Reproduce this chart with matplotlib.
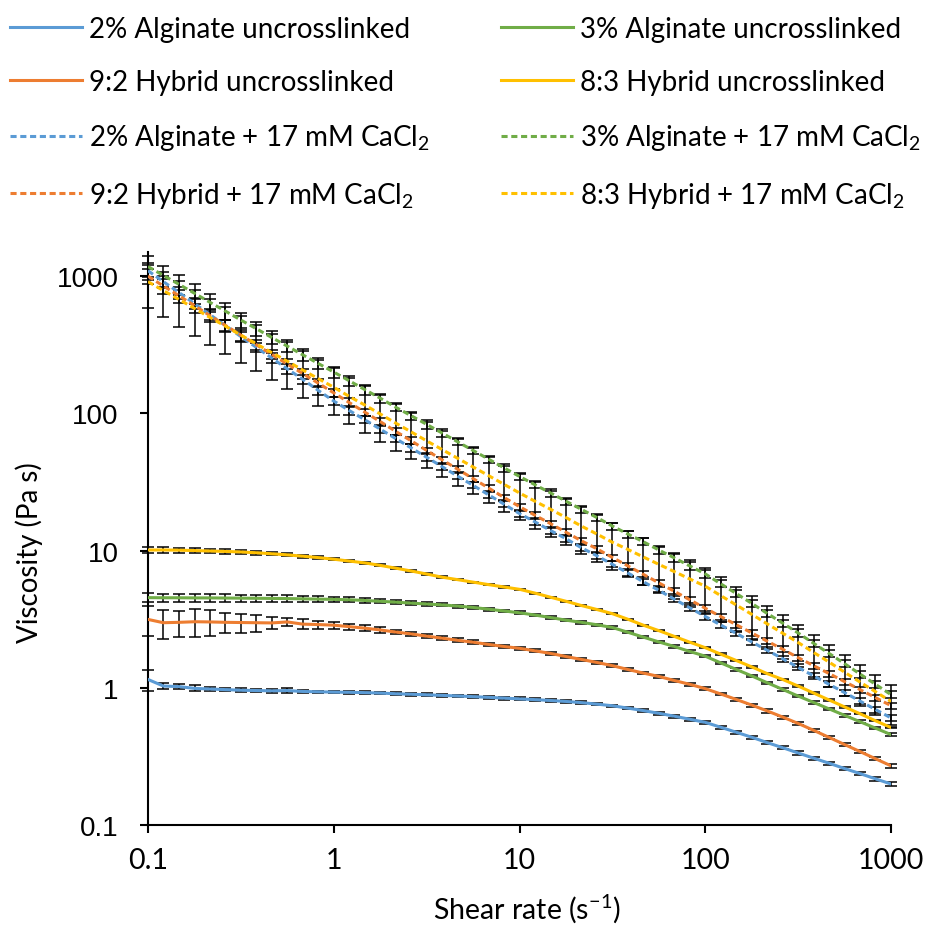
import numpy as np
import matplotlib.pyplot as plt
from matplotlib.ticker import NullLocator

plt.rcParams['font.family'] = ['Lato', 'DejaVu Sans']
plt.rcParams['mathtext.fontset'] = 'custom'
plt.rcParams['mathtext.rm'] = 'Lato'
plt.rcParams['mathtext.it'] = 'Lato:italic'
plt.rcParams['mathtext.bf'] = 'Lato:bold'

# shear rate (1/s), 12 points per decade
shear_rate = [0.1, 0.121, 0.147, 0.178, 0.215, 0.261, 0.316, 0.383, 0.464, 0.562, 0.681, 0.825,
              1, 1.21, 1.47, 1.78, 2.15, 2.61, 3.16, 3.83, 4.64, 5.62, 6.81, 8.25,
              10, 12.1, 14.7, 17.8, 21.5, 26.1, 31.6, 38.3, 46.4, 56.2, 68.1, 82.5,
              100, 121, 147, 178, 215, 261, 316, 383, 464, 562, 681, 825, 1000]

# uncrosslinked viscosities (Pa s) and errors
alg2_unc = [1.15, 1.03, 1.02, 0.99, 0.98, 0.97, 0.96, 0.955, 0.95, 0.955, 0.94, 0.935,
            0.93, 0.927, 0.922, 0.915, 0.905, 0.897, 0.889, 0.880, 0.872, 0.862, 0.852, 0.841,
            0.830, 0.820, 0.808, 0.795, 0.780, 0.760, 0.740, 0.711, 0.682, 0.652, 0.621, 0.590,
            0.560, 0.516, 0.474, 0.436, 0.399, 0.366, 0.335, 0.307, 0.282, 0.258, 0.237, 0.217, 0.199]
alg2_unc_err = [0.20, 0.05, 0.04, 0.05, 0.04, 0.03, 0.03, 0.03, 0.03, 0.04, 0.02, 0.02,
                0.02, 0.02, 0.02, 0.02, 0.02, 0.02, 0.02, 0.02, 0.02, 0.02, 0.02, 0.02,
                0.02, 0.02, 0.02, 0.02, 0.02, 0.015, 0.015, 0.015, 0.015, 0.015, 0.015, 0.015,
                0.012, 0.012, 0.012, 0.01, 0.01, 0.01, 0.01, 0.008, 0.008, 0.008, 0.006, 0.006, 0.006]

hyb92_unc = [3.15, 2.98, 3.00, 3.03, 3.02, 3.00, 2.99, 2.98, 2.97, 3.02, 2.91, 2.89,
             2.86, 2.79, 2.72, 2.64, 2.55, 2.47, 2.38, 2.30, 2.22, 2.15, 2.07, 2.00,
             1.94, 1.86, 1.78, 1.69, 1.61, 1.53, 1.45, 1.36, 1.28, 1.21, 1.13, 1.06,
             0.986, 0.902, 0.822, 0.748, 0.679, 0.612, 0.550, 0.490, 0.435, 0.386, 0.343, 0.304, 0.270]
hyb92_unc_err = [0.78, 0.70, 0.65, 0.70, 0.65, 0.50, 0.48, 0.42, 0.30, 0.22, 0.25, 0.20,
                 0.18, 0.15, 0.13, 0.12, 0.10, 0.10, 0.08, 0.08, 0.07, 0.07, 0.06, 0.06,
                 0.05, 0.05, 0.05, 0.04, 0.04, 0.04, 0.04, 0.03, 0.03, 0.03, 0.03, 0.03,
                 0.025, 0.02, 0.02, 0.02, 0.02, 0.015, 0.015, 0.012, 0.012, 0.01, 0.01, 0.008, 0.008]

alg3_unc = [4.54, 4.53, 4.53, 4.52, 4.52, 4.51, 4.50, 4.49, 4.48, 4.47, 4.45, 4.43,
            4.41, 4.38, 4.33, 4.27, 4.21, 4.14, 4.08, 4.02, 3.94, 3.85, 3.74, 3.63,
            3.52, 3.39, 3.25, 3.11, 3.00, 2.88, 2.75, 2.54, 2.34, 2.16, 2.00, 1.84,
            1.70, 1.52, 1.36, 1.22, 1.09, 0.973, 0.871, 0.782, 0.702, 0.630, 0.566, 0.508, 0.456]
alg3_unc_err = [0.33, 0.30, 0.30, 0.30, 0.30, 0.28, 0.28, 0.26, 0.25, 0.24, 0.22, 0.20,
                0.20, 0.18, 0.16, 0.15, 0.14, 0.12, 0.12, 0.10, 0.10, 0.09, 0.09, 0.08,
                0.08, 0.07, 0.07, 0.06, 0.06, 0.05, 0.05, 0.05, 0.04, 0.04, 0.04, 0.035,
                0.03, 0.03, 0.025, 0.025, 0.02, 0.02, 0.018, 0.016, 0.015, 0.013, 0.012, 0.01, 0.01]

hyb83_unc = [10.1, 10.1, 10.07, 10.0, 9.93, 9.86, 9.77, 9.64, 9.48, 9.31, 9.10, 8.89,
             8.65, 8.39, 8.13, 7.80, 7.45, 7.10, 6.75, 6.40, 6.14, 5.89, 5.65, 5.43,
             5.22, 4.90, 4.57, 4.27, 3.98, 3.72, 3.47, 3.16, 2.86, 2.61, 2.37, 2.15,
             1.96, 1.76, 1.58, 1.42, 1.27, 1.15, 1.03, 0.916, 0.815, 0.726, 0.647, 0.575, 0.513]
hyb83_unc_err = [0.45, 0.45, 0.40, 0.40, 0.35, 0.35, 0.30, 0.30, 0.25, 0.25, 0.20, 0.20,
                 0.15, 0.15, 0.12, 0.12, 0.10, 0.10, 0.08, 0.08, 0.06, 0.06, 0.05, 0.05,
                 0.05, 0.04, 0.04, 0.04, 0.03, 0.03, 0.03, 0.03, 0.025, 0.025, 0.02, 0.02,
                 0.02, 0.018, 0.016, 0.015, 0.013, 0.012, 0.01, 0.01, 0.008, 0.008, 0.007, 0.006, 0.006]

# crosslinked (17 mM CaCl2) viscosities (Pa s), errors as fraction of value
alg2_ca = [1096, 912, 759, 631, 525, 437, 363, 303, 253, 211, 177, 147,
           123, 105, 89.8, 76.7, 65.6, 56.0, 47.9, 40.9, 34.9, 29.9, 25.5, 21.8,
           18.6, 16.2, 14.0, 12.2, 10.5, 9.16, 7.94, 6.87, 5.93, 5.13, 4.43, 3.83,
           3.31, 2.87, 2.49, 2.16, 1.88, 1.63, 1.41, 1.22, 1.06, 0.923, 0.80, 0.695, 0.603]
alg2_ca_rel = [0.10, 0.10, 0.10, 0.09, 0.09, 0.09, 0.08, 0.08, 0.08, 0.08, 0.07, 0.07,
               0.07, 0.07, 0.06, 0.06, 0.06, 0.06, 0.06, 0.05, 0.05, 0.05, 0.05, 0.05,
               0.05, 0.05, 0.05, 0.05, 0.05, 0.05, 0.05, 0.05, 0.05, 0.05, 0.05, 0.05,
               0.05, 0.05, 0.05, 0.05, 0.05, 0.05, 0.05, 0.05, 0.05, 0.05, 0.05, 0.05, 0.05]

hyb92_ca = [1000, 848, 719, 610, 517, 438, 372, 316, 269, 229, 195, 166,
            141, 120, 102, 87.1, 74.1, 63.1, 53.7, 45.9, 39.2, 33.5, 28.6, 24.4,
            20.9, 18.1, 15.7, 13.6, 11.8, 10.3, 8.91, 7.73, 6.71, 5.82, 5.05, 4.38,
            3.80, 3.31, 2.88, 2.51, 2.19, 1.91, 1.66, 1.45, 1.27, 1.11, 0.97, 0.848, 0.741]
hyb92_ca_rel = [0.12, 0.12, 0.11, 0.11, 0.10, 0.10, 0.09, 0.09, 0.08, 0.08, 0.08, 0.07,
                0.07, 0.07, 0.06, 0.06, 0.06, 0.06, 0.05, 0.05, 0.05, 0.05, 0.05, 0.05,
                0.05, 0.05, 0.05, 0.05, 0.05, 0.05, 0.05, 0.05, 0.05, 0.05, 0.05, 0.05,
                0.05, 0.05, 0.05, 0.05, 0.05, 0.05, 0.05, 0.05, 0.05, 0.05, 0.05, 0.05, 0.05]

alg3_ca = [1175, 1012, 871, 750, 646, 556, 479, 414, 357, 309, 267, 231,
           200, 173, 149, 129, 111, 96.2, 83.2, 71.9, 62.1, 53.7, 46.4, 40.1,
           34.7, 30.2, 26.3, 22.9, 20.0, 17.4, 15.1, 13.2, 11.6, 10.1, 8.85, 7.73,
           6.76, 5.73, 4.86, 4.12, 3.49, 2.96, 2.51, 2.11, 1.78, 1.50, 1.26, 1.06, 0.891]
alg3_ca_rel = [0.20, 0.18, 0.17, 0.16, 0.15, 0.14, 0.13, 0.12, 0.11, 0.10, 0.10, 0.09,
               0.09, 0.08, 0.08, 0.08, 0.07, 0.07, 0.07, 0.07, 0.06, 0.06, 0.06, 0.06,
               0.06, 0.06, 0.06, 0.06, 0.06, 0.06, 0.06, 0.06, 0.06, 0.06, 0.06, 0.06,
               0.06, 0.06, 0.06, 0.06, 0.06, 0.06, 0.06, 0.06, 0.06, 0.06, 0.06, 0.06, 0.06]

hyb83_ca = [912, 785, 676, 582, 501, 432, 372, 321, 277, 240, 207, 179,
            155, 133, 115, 98.9, 85.1, 73.3, 63.1, 54.5, 47.1, 40.7, 35.2, 30.4,
            26.3, 22.9, 20.0, 17.4, 15.1, 13.2, 11.5, 10.2, 8.98, 7.94, 7.03, 6.21,
            5.50, 4.70, 4.01, 3.43, 2.93, 2.50, 2.14, 1.81, 1.54, 1.30, 1.10, 0.937, 0.794]
hyb83_ca_rel = [0.36, 0.36, 0.37, 0.37, 0.37, 0.37, 0.37, 0.37, 0.37, 0.37, 0.37, 0.37,
                0.37, 0.37, 0.37, 0.37, 0.37, 0.37, 0.37, 0.37, 0.37, 0.37, 0.37, 0.37,
                0.37, 0.37, 0.37, 0.37, 0.37, 0.37, 0.37, 0.37, 0.37, 0.37, 0.37, 0.37,
                0.36, 0.36, 0.36, 0.35, 0.35, 0.35, 0.34, 0.34, 0.34, 0.33, 0.33, 0.32, 0.32]

blue, orange, green, gold = '#5B9BD5', '#ED7D31', '#70AD47', '#FFC000'

fig = plt.figure(figsize=(9.36, 9.29), dpi=100)
ax = fig.add_axes([148 / 936, 1 - 826 / 929, (891 - 148) / 936, (826 - 253) / 929])
ax.set_xscale('log')
ax.set_yscale('log')

series = [
    ('2% Alginate uncrosslinked', alg2_unc, alg2_unc_err, blue, '-'),
    ('9:2 Hybrid uncrosslinked', hyb92_unc, hyb92_unc_err, orange, '-'),
    ('2% Alginate + 17 mM CaCl$_2$', alg2_ca, np.array(alg2_ca) * alg2_ca_rel, blue, '--'),
    ('9:2 Hybrid + 17 mM CaCl$_2$', hyb92_ca, np.array(hyb92_ca) * hyb92_ca_rel, orange, '--'),
    ('3% Alginate uncrosslinked', alg3_unc, alg3_unc_err, green, '-'),
    ('8:3 Hybrid uncrosslinked', hyb83_unc, hyb83_unc_err, gold, '-'),
    ('3% Alginate + 17 mM CaCl$_2$', alg3_ca, np.array(alg3_ca) * alg3_ca_rel, green, '--'),
    ('8:3 Hybrid + 17 mM CaCl$_2$', hyb83_ca, np.array(hyb83_ca) * hyb83_ca_rel, gold, '--'),
]

handles = []
for label, vals, err, col, ls in series:
    eb = ax.errorbar(shear_rate, vals, yerr=err, fmt='none', ecolor='black',
                     elinewidth=1.1, capsize=4.5, capthick=1.1, zorder=2)
    for art in eb.lines[1] + eb.lines[2]:
        art.set_clip_on(False)
    line, = ax.plot(shear_rate, vals, color=col, lw=2.2, zorder=3, label=label)
    if ls == '--':
        line.set_dashes([2.0, 1.2])
    handles.append(line)

ax.set_xlim(0.1, 1000)
ax.set_ylim(0.1, 1500)
ax.set_xticks([0.1, 1, 10, 100, 1000])
ax.set_xticklabels(['0.1', '1', '10', '100', '1000'], fontsize=20.5)
ax.set_yticks([0.1, 1, 10, 100, 1000])
ax.set_yticklabels(['0.1', '1', '10', '100', '1000'], fontsize=20,
                   family='Liberation Sans')
ax.xaxis.set_minor_locator(NullLocator())
ax.yaxis.set_minor_locator(NullLocator())
ax.tick_params(axis='both', direction='out', length=6, width=1.5, color='black')
ax.tick_params(axis='x', pad=10)
ax.tick_params(axis='y', pad=15)
for side in ['top', 'right']:
    ax.spines[side].set_visible(False)
for side in ['left', 'bottom']:
    ax.spines[side].set_linewidth(1.5)
    ax.spines[side].set_color('black')

fig.text(527 / 936, 1 - 909 / 929, 'Shear rate (s$^{\u22121}$)', fontsize=20.5,
         ha='center', va='center')
fig.text(29 / 936, 1 - 553 / 929, 'Viscosity (Pa s)', fontsize=20,
         ha='center', va='center', rotation=90)

leg_kw = dict(loc='upper left', frameon=False, fontsize=20, handlelength=2.6,
              handletextpad=0.25, labelspacing=0.98, borderpad=0, borderaxespad=0)
fig.legend(handles[:4], [s[0] for s in series[:4]],
           bbox_to_anchor=(10 / 936, 1 - 17 / 929), **leg_kw)
fig.legend(handles[4:], [s[0] for s in series[4:]],
           bbox_to_anchor=(501 / 936, 1 - 17 / 929), **leg_kw)

plt.savefig('out.png', dpi=100)
